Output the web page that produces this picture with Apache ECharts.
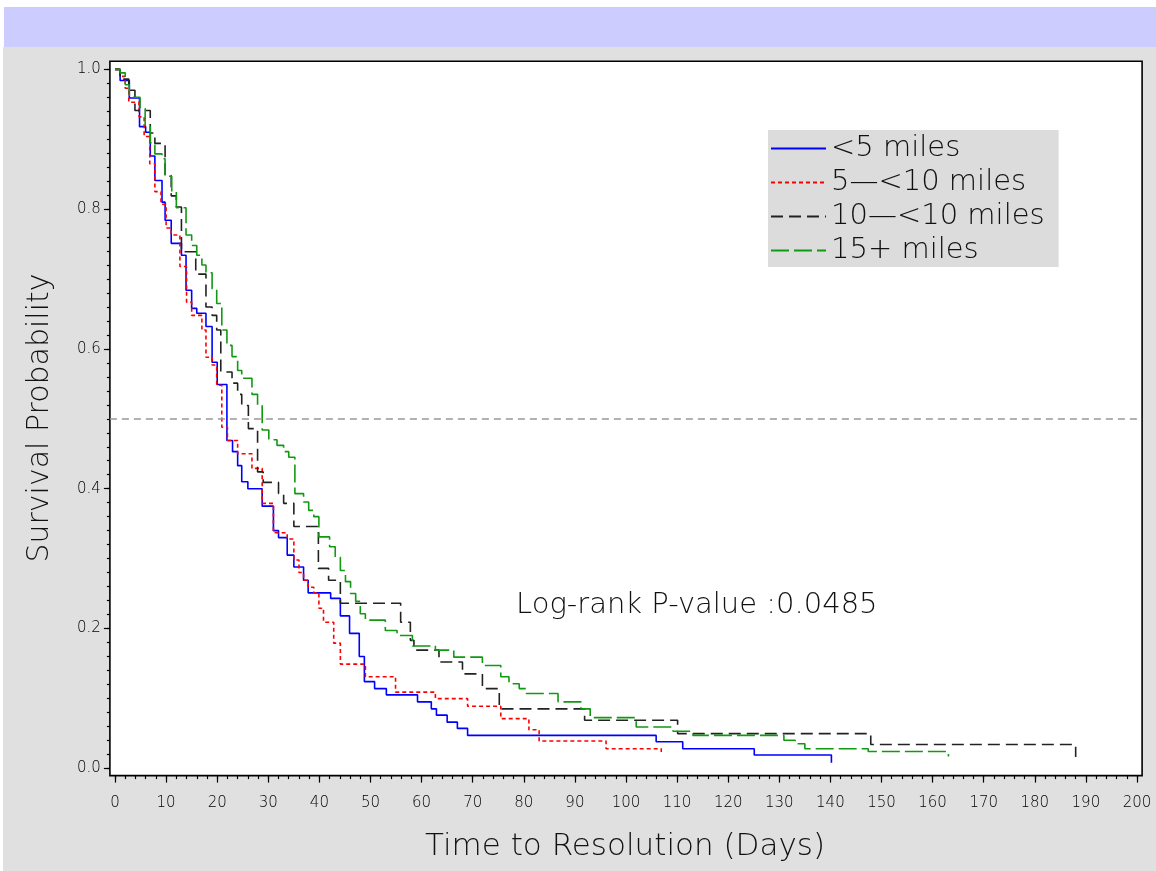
<!DOCTYPE html>
<html><head><meta charset="utf-8">
<script src="https://cdn.jsdelivr.net/npm/echarts@6/dist/echarts.min.js"></script>
<style>
html,body{margin:0;padding:0;background:#fff;}
#band{position:absolute;left:4px;top:7px;width:1152px;height:40px;background:#ccccff;}
#panel{position:absolute;left:3px;top:47px;width:1153px;height:824px;background:#e0e0e0;}
#chart{position:absolute;left:0;top:0;width:1156px;height:871px;}
</style></head><body>
<div id="band"></div><div id="panel"></div><div id="chart"></div>
<script>
// ---- data ----
const groupNames = ['<5 miles', '5\u2014<10 miles', '10\u2014<10 miles', '15+ miles'];
const xTickLabels = [0,10,20,30,40,50,60,70,80,90,100,110,120,130,140,150,160,170,180,190,200];
const yTickLabels = [0,0.2,0.4,0.6,0.8,1.0];
const refLine = 0.5;
const pValueText = 'Log-rank P-value :0.0485';

// [time, survival after the drop at that time]
const lt5 = [[0,1],[1,0.984],[2.8,0.959],[4.8,0.918],[6,0.91],[6.9,0.876],[7.8,0.841],[9.2,0.81],[9.8,0.784],[11,0.751],[13,0.734],[13.9,0.684],[15,0.658],[16,0.651],[17.8,0.632],[19,0.581],[20,0.549],[21.9,0.469],[23,0.453],[24,0.433],[24.8,0.41],[26,0.40],[28.8,0.375],[31,0.34],[32,0.33],[33.7,0.305],[35,0.288],[36.9,0.269],[37.8,0.251],[42.2,0.243],[44.1,0.218],[45.9,0.193],[47.8,0.16],[48.8,0.124],[50.8,0.114],[53.1,0.105],[59.2,0.095],[61.9,0.085],[62.9,0.076],[65,0.066],[67,0.057],[69,0.047],[105.9,0.038],[111.1,0.028],[125.1,0.019],[140.2,0.008]];
const m5to10 = [[0,1],[1,0.99],[2,0.973],[2.7,0.953],[4.7,0.932],[5.7,0.904],[6.8,0.865],[7.8,0.825],[9,0.807],[10,0.773],[11,0.763],[12.7,0.718],[14,0.667],[15,0.648],[17,0.627],[17.8,0.588],[19,0.577],[19.9,0.548],[20.9,0.488],[22,0.469],[24,0.45],[26.8,0.429],[28.8,0.379],[31,0.337],[33.7,0.328],[35,0.298],[36,0.28],[36.9,0.269],[37.8,0.259],[38.9,0.251],[39.9,0.229],[40.8,0.209],[42.8,0.179],[44.1,0.149],[49,0.131],[54.9,0.109],[62.7,0.0997],[69,0.0887],[75.5,0.071],[81,0.055],[83,0.039],[96.1,0.028],[106.9,0.021]];
const m10to15 = [[0,1],[1,0.986],[2.7,0.97],[3.9,0.941],[6.9,0.909],[7.8,0.894],[9.8,0.848],[11,0.819],[12,0.803],[13,0.739],[15.8,0.707],[17.8,0.66],[19,0.648],[19.9,0.627],[20.7,0.567],[22.9,0.551],[24,0.535],[24.8,0.519],[26.1,0.486],[27.9,0.424],[29,0.409],[32,0.393],[33,0.379],[35,0.346],[39.8,0.286],[41.8,0.269],[44.1,0.236],[55.9,0.209],[57.8,0.183],[58.5,0.169],[63.4,0.152],[68,0.135],[71.9,0.114],[75.2,0.085],[91.9,0.0687],[110.1,0.0496],[147.9,0.034],[188,0.016]];
const m15plus = [[0,1],[1,0.995],[2,0.978],[2.8,0.96],[4.9,0.944],[5.9,0.92],[6.9,0.895],[7.8,0.879],[9.2,0.872],[9.8,0.847],[11.1,0.825],[12,0.802],[13.9,0.763],[15,0.748],[16,0.734],[17,0.72],[17.8,0.709],[19,0.686],[19.9,0.665],[20.9,0.627],[21.9,0.605],[22.9,0.589],[24,0.569],[24.8,0.558],[26.8,0.535],[27.9,0.52],[28.8,0.484],[30.1,0.47],[31.7,0.462],[33,0.453],[34,0.445],[35.2,0.393],[36.9,0.381],[37.9,0.369],[38.9,0.36],[39.9,0.331],[42,0.317],[43.1,0.302],[44.1,0.283],[45.1,0.267],[46.1,0.25],[47.1,0.239],[48,0.221],[49,0.212],[52.9,0.197],[55.2,0.19],[58.2,0.175],[62.7,0.169],[66.3,0.159],[71.9,0.147],[75.5,0.131],[77.1,0.121],[79.1,0.114],[80.5,0.107],[86.7,0.095],[91.2,0.085],[93,0.0725],[102,0.059],[109.2,0.053],[113.1,0.047],[130.9,0.04],[133.1,0.035],[135,0.028],[147.4,0.024],[163.1,0.017]];

// ---- chart ----
const FONT = 'DejaVu Sans';
const xMinor = []; for (let v = 0; v <= 200; v += 2) xMinor.push(v);
const yMinor = []; for (let i = 0; i <= 50; i++) yMinor.push(+(i * 0.02).toFixed(2));
const tickStyle = {color: '#000', width: 1.2};

const chart = echarts.init(document.getElementById('chart'), null, {renderer: 'canvas'});
function mkSeries(name, data, color, dash) {
  return {
    name, type: 'line', data, step: 'end', showSymbol: false, symbol: 'none',
    xAxisIndex: 0, yAxisIndex: 0, animation: false,
    lineStyle: {color, width: 1.6, type: dash},
    itemStyle: {color}
  };
}
const series = [
  mkSeries(groupNames[0], lt5, '#0000ff', 'solid'),
  mkSeries(groupNames[1], m5to10, '#ff0000', [4, 3]),
  mkSeries(groupNames[2], m10to15, '#222222', [12, 6]),
  mkSeries(groupNames[3], m15plus, '#119911', [18, 5])
];
series[0].markLine = {
  silent: true, symbol: ['none', 'none'], animation: false,
  label: {show: false},
  lineStyle: {color: '#999', type: [7, 5], width: 1.5},
  data: [{yAxis: refLine}]
};

chart.setOption({
  animation: false,
  textStyle: {fontFamily: FONT},
  grid: {left: 109.9, top: 61.3, width: 1032.2, height: 714.3, show: true,
         backgroundColor: '#ffffff', borderColor: '#000', borderWidth: 1.6},
  xAxis: [
    {type: 'value', min: -1, max: 201, position: 'bottom',
     axisLine: {show: false, onZero: false}, splitLine: {show: false},
     axisTick: {show: true, length: 7, customValues: xTickLabels, lineStyle: tickStyle},
     axisLabel: {customValues: xTickLabels, margin: 20, fontSize: 15, fontWeight: 200, color: '#000', fontFamily: FONT}},
    {type: 'value', min: -1, max: 201, position: 'bottom',
     axisLine: {show: false, onZero: false}, splitLine: {show: false},
     axisTick: {show: true, length: 3.5, customValues: xMinor, lineStyle: tickStyle},
     axisLabel: {show: false}}
  ],
  yAxis: [
    {type: 'value', min: -0.0105, max: 1.0115, position: 'left',
     axisLine: {show: false, onZero: false}, splitLine: {show: false},
     axisTick: {show: true, length: 6, customValues: yTickLabels, lineStyle: tickStyle},
     axisLabel: {customValues: yTickLabels, margin: 9, fontSize: 15, fontWeight: 200, color: '#000', fontFamily: FONT,
                 formatter: v => Number(v).toFixed(1)}},
    {type: 'value', min: -0.0105, max: 1.0115, position: 'left',
     axisLine: {show: false, onZero: false}, splitLine: {show: false},
     axisTick: {show: true, length: 3, customValues: yMinor, lineStyle: tickStyle},
     axisLabel: {show: false}}
  ],
  legend: {
    data: groupNames, orient: 'vertical', left: 768, top: 130,
    backgroundColor: '#dcdcdc', padding: [4, 14, 2, 2], itemGap: 5,
    itemWidth: 55, itemHeight: 14,
    itemStyle: {opacity: 0, color: 'transparent', borderWidth: 0},
    textStyle: {fontSize: 29, lineHeight: 29, fontWeight: 200, color: '#111', fontFamily: FONT}
  },
  graphic: [
    {type: 'text', left: 516, top: 591, silent: true,
     style: {text: pValueText, font: '200 29px "DejaVu Sans"', fill: '#111'}},
    {type: 'text', x: 625, y: 847, silent: true,
     style: {text: 'Time to Resolution (Days)', font: '200 31px "DejaVu Sans"', fill: '#111',
             align: 'center', verticalAlign: 'middle'}},
    {type: 'text', x: 40, y: 418, rotation: Math.PI / 2, silent: true,
     style: {text: 'Survival Probability', font: '200 30px "DejaVu Sans"', fill: '#111',
             align: 'center', verticalAlign: 'middle'}}
  ],
  series
});
</script></body></html>
